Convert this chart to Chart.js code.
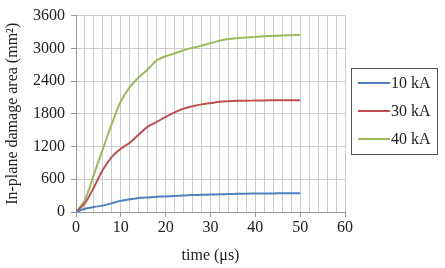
<!DOCTYPE html>
<html>
<head>
<meta charset="utf-8">
<script src="https://cdn.jsdelivr.net/npm/chart.js@4.4.0/dist/chart.umd.min.js"></script>
<style>
    html, body { margin: 0; padding: 0; background: #fff; }
    #wrap { width: 445px; height: 268px; }
</style>
</head>
<body>
<div id="wrap"><canvas id="damageChart" width="445" height="268"></canvas></div>
<script>
/* ---------- Data ---------- */
const timeUs = [0, 2, 4, 6, 8, 10, 12, 14, 16, 18, 20, 22, 24, 26, 28, 30, 32, 34, 36, 38, 40, 42, 44, 46, 48, 50];
const area10kA = [0, 58, 93, 117, 163, 204, 233, 257, 268, 280, 286, 295, 303, 310, 315, 320, 325, 329, 333, 336, 338, 340, 341, 342, 343, 344];
const area30kA = [0, 163, 455, 776, 1010, 1160, 1270, 1420, 1565, 1650, 1745, 1827, 1895, 1938, 1973, 1996, 2020, 2031, 2037, 2040, 2043, 2046, 2049, 2050, 2050, 2050];
const area40kA = [0, 222, 690, 1155, 1620, 2030, 2290, 2470, 2615, 2780, 2855, 2907, 2965, 3010, 3050, 3095, 3140, 3170, 3187, 3200, 3210, 3220, 3228, 3235, 3240, 3245];
const seriesLabels = ["10 kA", "30 kA", "40 kA"];
const xTicks = [0, 10, 20, 30, 40, 50, 60];
const yTicks = [0, 600, 1200, 1800, 2400, 3000, 3600];

const FONT = "'Liberation Serif', 'DejaVu Serif', serif";
const TEXT = "#222";
const GRID = "#cccccc";

function pts(values) {
    return timeUs.map((t, i) => ({ x: t, y: values[i] }));
}

/* ---------- Boxed legend at the right ---------- */
const boxLegend = {
    id: "boxLegend",
    afterDraw(chart) {
        const c = chart.ctx;
        const x0 = 351, y0 = 68, w = 86, h = 86;
        c.save();
        c.strokeStyle = "#555";
        c.lineWidth = 1;
        c.strokeRect(x0 + 0.5, y0 + 0.5, w, h);
        c.font = "16px " + FONT;
        c.textBaseline = "middle";
        c.fillStyle = TEXT;
        chart.data.datasets.forEach((ds, i) => {
            const y = y0 + 15 + i * 28;
            c.strokeStyle = ds.borderColor;
            c.lineWidth = 2;
            c.beginPath();
            c.moveTo(x0 + 7, y);
            c.lineTo(x0 + 39, y);
            c.stroke();
            c.fillText(ds.label, x0 + 40, y + 1);
        });
        c.restore();
    }
};

const ctx = document.getElementById("damageChart");

new Chart(ctx, {
    type: "line",
    data: {
        datasets: [
            { label: seriesLabels[0], data: pts(area10kA), borderColor: "#4F81BD" },
            { label: seriesLabels[1], data: pts(area30kA), borderColor: "#C0504D" },
            { label: seriesLabels[2], data: pts(area40kA), borderColor: "#9BBB59" }
        ]
    },
    options: {
        responsive: false,
        animation: false,
        layout: { padding: { top: 7, right: 100, left: 3, bottom: 3 } },
        elements: {
            point: { radius: 0 },
            line: { borderWidth: 2, tension: 0.3 }
        },
        plugins: {
            legend: { display: false },
            tooltip: { enabled: false }
        },
        scales: {
            x: {
                type: "linear",
                min: 0,
                max: 60,
                afterBuildTicks(scale) {
                    const t = [];
                    for (let v = 0; v <= 60; v += 2) t.push({ value: v });
                    scale.ticks = t;
                },
                ticks: {
                    color: TEXT,
                    font: { family: FONT, size: 16 },
                    maxRotation: 0,
                    autoSkip: false,
                    padding: 1,
                    callback: v => xTicks.includes(v) ? String(v) : ""
                },
                grid: {
                    color: GRID,
                    tickLength: 5,
                    tickColor: c => (c.tick && c.tick.value % 10 === 0) ? "#999" : "rgba(0,0,0,0)"
                },
                border: { color: "#999" },
                title: {
                    display: true,
                    text: "time (\u03BCs)",
                    color: TEXT,
                    font: { family: FONT, size: 16 },
                    padding: { top: 0, bottom: 0 }
                },
                afterFit(scale) { scale.height = 53; }
            },
            y: {
                min: 0,
                max: 3600,
                afterBuildTicks(scale) {
                    scale.ticks = yTicks.map(v => ({ value: v }));
                },
                ticks: {
                    color: TEXT,
                    font: { family: FONT, size: 16 },
                    padding: 6,
                    callback: v => String(v)
                },
                grid: { color: GRID, tickLength: 5, tickColor: "#999" },
                border: { color: "#999" },
                title: {
                    display: true,
                    text: "In-plane damage area (mm\u00B2)",
                    color: TEXT,
                    font: { family: FONT, size: 16 },
                    padding: { top: 0, bottom: 4 }
                },
                afterFit(scale) { scale.width = 73; }
            }
        }
    },
    plugins: [boxLegend]
});
</script>
</body>
</html>
